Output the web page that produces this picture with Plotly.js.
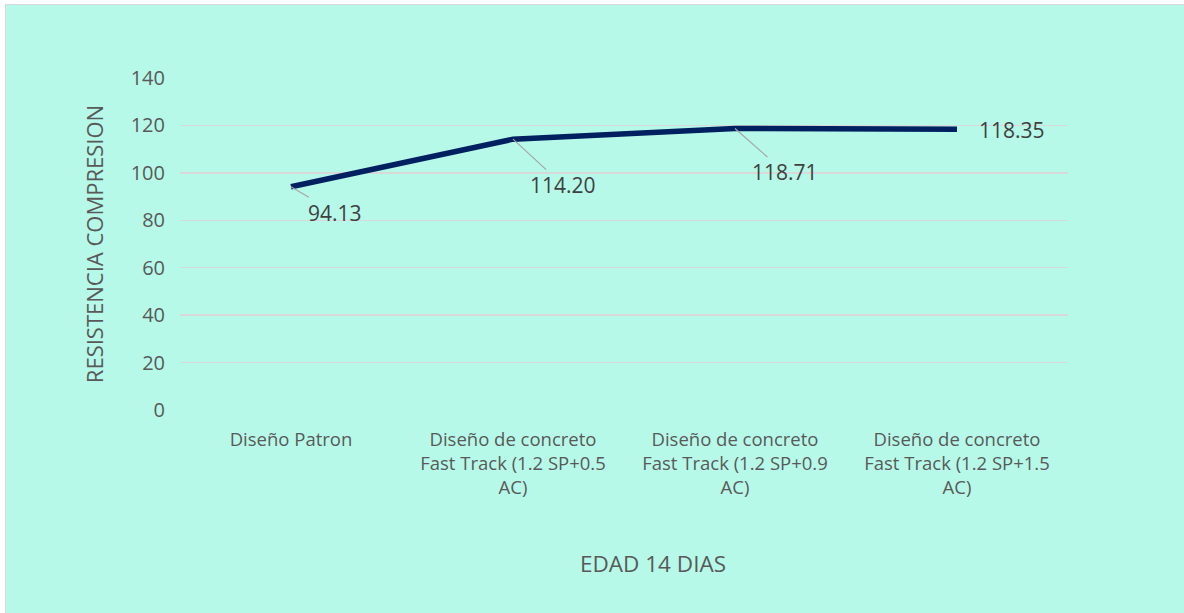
<!DOCTYPE html>
<html>
<head>
<meta charset="utf-8">
<script src="https://cdn.plot.ly/plotly-3.0.1.min.js"></script>
<style>
  html, body { margin: 0; padding: 0; background: #ffffff; }
  #wrap { position: absolute; left: 5px; top: 4px; width: 1179px; height: 609px;
          border-left: 1px solid #d9d9d9; border-top: 1px solid #d9d9d9; background: #b7f9e8; }
  #chart { width: 1178px; height: 608px; }
</style>
</head>
<body>
<div id="wrap"><div id="chart"></div></div>
<script>
const categories = [
  "Diseño Patron",
  "Diseño de concreto<br>Fast Track (1.2 SP+0.5<br>AC)",
  "Diseño de concreto<br>Fast Track (1.2 SP+0.9<br>AC)",
  "Diseño de concreto<br>Fast Track (1.2 SP+1.5<br>AC)"
];
const values = [94.13, 114.20, 118.71, 118.35];
const labelOffsetX = [44, 50, 50, 55];
const labelOffsetY = [26, 46, 44, 1];
const showLeader = [true, true, true, false];
const xTitle = "EDAD 14 DIAS";
const yTitle = "RESISTENCIA COMPRESION";

const fontFam = "Open Sans, Noto Sans, sans-serif";
const textColor = "#595959";

const trace = {
  x: categories,
  y: values,
  type: "scatter",
  mode: "lines",
  line: { color: "#002060", width: 5.5 },
  hoverinfo: "skip"
};

const annotations = values.map((v, i) => ({
  x: categories[i],
  y: v,
  xref: "x",
  yref: "y",
  text: v.toFixed(2),
  showarrow: showLeader[i],
  arrowhead: 0,
  arrowwidth: 1.2,
  arrowcolor: "#a6a6a6",
  ax: showLeader[i] ? labelOffsetX[i] : 0,
  ay: showLeader[i] ? labelOffsetY[i] : 0,
  xshift: showLeader[i] ? 0 : labelOffsetX[i],
  yshift: showLeader[i] ? 0 : -labelOffsetY[i],
  xanchor: showLeader[i] ? "auto" : "center",
  font: { family: fontFam, size: 21, color: "#404040" }
}));

annotations.push({
  text: xTitle,
  xref: "paper",
  yref: "paper",
  x: 0.5327,
  y: 0,
  yshift: -153,
  xanchor: "center",
  yanchor: "middle",
  showarrow: false,
  font: { family: fontFam, size: 22.5, color: textColor }
});

const layout = {
  width: 1178,
  height: 608,
  margin: { l: 174, r: 116, t: 73, b: 203 },
  paper_bgcolor: "#b7f9e8",
  plot_bgcolor: "#b7f9e8",
  showlegend: false,
  font: { family: fontFam, color: textColor, size: 18 },
  xaxis: {
    type: "category",
    range: [-0.5, 3.5],
    showgrid: false,
    zeroline: false,
    showline: false,
    ticks: "",
    ticklabelstandoff: 16,
    tickfont: { family: fontFam, size: 18.5, color: textColor },
    automargin: false
  },
  yaxis: {
    range: [0, 140],
    dtick: 20,
    showgrid: true,
    gridcolor: "#d9d9d9",
    gridwidth: 1.3,
    zeroline: false,
    showline: false,
    ticks: "",
    ticklabelstandoff: 14,
    tickfont: { family: fontFam, size: 20, color: textColor },
    title: { text: yTitle, font: { family: fontFam, size: 22, color: textColor }, standoff: 20 },
    automargin: false
  },
  annotations: annotations
};

Plotly.newPlot("chart", [trace], layout, { displayModeBar: false, staticPlot: true });
</script>
</body>
</html>
